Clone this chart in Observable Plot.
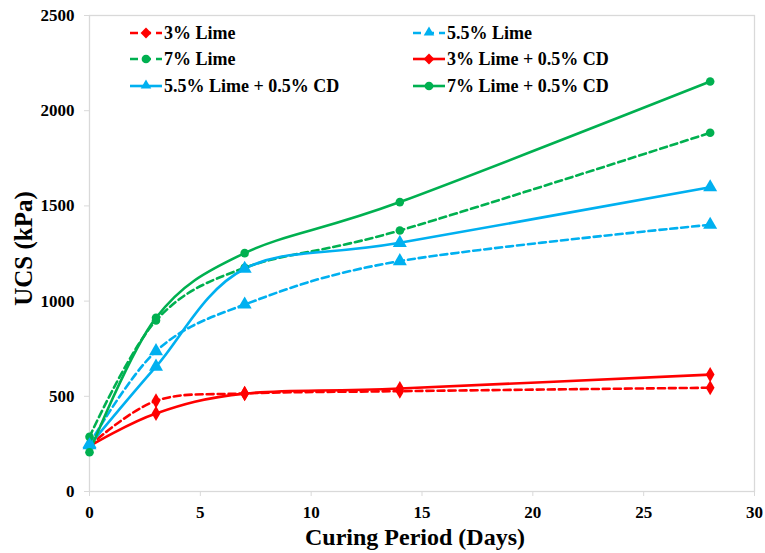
<!DOCTYPE html>
<html>
<head>
<meta charset="utf-8">
<script src="https://cdn.jsdelivr.net/npm/d3@7"></script>
<script src="https://cdn.jsdelivr.net/npm/@observablehq/plot@0.6"></script>
<style>
  html, body { margin: 0; padding: 0; background: #fff; }
  #wrap { position: relative; width: 765px; height: 553px; font-family: "Liberation Serif", "Times New Roman", serif; }
  #legend { position: absolute; left: 0; top: 0; width: 765px; height: 120px; pointer-events: none; }
  .item { position: absolute; display: flex; align-items: center; height: 20px; font-family: "Liberation Serif", "Times New Roman", serif; font-weight: bold; font-size: 18px; color: #000; white-space: nowrap; }
  .item svg { display: block; margin-right: 2px; }
</style>
</head>
<body>
<div id="wrap"><div id="chart"></div><div id="legend"></div></div>
<script>
// ---- data ----
const days = [0, 3, 7, 14, 28];
const seriesNames = ["3% Lime", "5.5% Lime", "7% Lime", "3% Lime + 0.5% CD", "5.5% Lime + 0.5% CD", "7% Lime + 0.5% CD"];
const lime3    = [240, 476, 515, 527, 545];
const lime55   = [250, 737, 982, 1210, 1401];
const lime7    = [287, 898, 1175, 1371, 1884];
const lime3cd  = [238, 410, 514, 541, 614];
const lime55cd = [243, 656, 1170, 1306, 1598];
const lime7cd  = [206, 912, 1252, 1520, 2153];
const xTicks = [0, 5, 10, 15, 20, 25, 30];
const yTicks = [0, 500, 1000, 1500, 2000, 2500];
const xTitle = "Curing Period (Days)";
const yTitle = "UCS (kPa)";

const FONT = '"Liberation Serif", "Times New Roman", serif';
// ---- styles per series ----
const RED = "#FF0000", BLUE = "#00B0F0", GREEN = "#00B050";
const styles = [
  {color: RED,   dash: "7,4", symbol: "diamond"},
  {color: BLUE,  dash: "7,4", symbol: "triangle"},
  {color: GREEN, dash: "7,4", symbol: "circle"},
  {color: RED,   dash: null,  symbol: "diamond"},
  {color: BLUE,  dash: null,  symbol: "triangle"},
  {color: GREEN, dash: null,  symbol: "circle"}
];
const values = [lime3, lime55, lime7, lime3cd, lime55cd, lime7cd];
const tables = values.map((vals, i) => days.map((d, j) => ({day: d, ucs: vals[j], series: seriesNames[i]})));

const marks = [
  Plot.frame({stroke: "#D9D9D9", strokeWidth: 1.3}),
  Plot.axisX({ticks: xTicks, tickFormat: d3.format("d"), tickSize: 5, tickPadding: 9, stroke: "#D9D9D9", label: null,
    fontSize: 17, fontWeight: "bold", fontFamily: FONT, fill: "#000"}),
  Plot.axisY({ticks: yTicks, tickFormat: d3.format("d"), tickSize: 5, tickPadding: 10, stroke: "#D9D9D9", label: null,
    fontSize: 17, fontWeight: "bold", fontFamily: FONT, fill: "#000"}),
];
const symbolSize = {diamond: 4.6, triangle: 5.2, circle: 4.3};
tables.forEach((t, i) => {
  const s = styles[i];
  marks.push(Plot.line(t, {x: "day", y: "ucs", stroke: s.color, strokeWidth: 2.6, curve: "cardinal",
    strokeDasharray: s.dash ?? undefined}));
});
tables.forEach((t, i) => {
  const s = styles[i];
  marks.push(Plot.dot(t, {x: "day", y: "ucs", fill: s.color, stroke: "none", symbol: s.symbol, r: symbolSize[s.symbol]}));
});
marks.push(Plot.text([xTitle], {frameAnchor: "bottom", lineAnchor: "middle", textAnchor: "middle", dy: 46, dx: -7,
  fontSize: 24, fontWeight: "bold", fontFamily: FONT, fill: "#000"}));
marks.push(Plot.text([yTitle], {frameAnchor: "left", lineAnchor: "middle", textAnchor: "middle", dx: -66, dy: -5, rotate: -90,
  fontSize: 25, fontWeight: "bold", fontFamily: FONT, fill: "#000"}));

const chart = Plot.plot({
  width: 765,
  height: 553,
  marginLeft: 89,
  marginRight: 11,
  marginTop: 15,
  marginBottom: 62,
  x: {domain: [0, 30]},
  y: {domain: [0, 2500]},
  style: {fontFamily: FONT, background: "#fff", overflow: "visible"},
  marks
});
document.getElementById("chart").appendChild(chart);

// ---- legend (inside the plot area, two columns) ----
const legend = document.getElementById("legend");
const pos = [
  {x: 130, y: 33}, {x: 413, y: 33},
  {x: 130, y: 59}, {x: 413, y: 59},
  {x: 130, y: 86}, {x: 413, y: 86}
];
const order = [0, 1, 2, 3, 4, 5];
order.forEach((si, k) => {
  const s = styles[si];
  const p = pos[k];
  const div = document.createElement("div");
  div.className = "item";
  div.style.left = p.x + "px";
  div.style.top = (p.y - 10) + "px";
  const sym = d3.symbol().type(s.symbol === "diamond" ? d3.symbolDiamond2 : s.symbol === "triangle" ? d3.symbolTriangle2 : d3.symbolCircle)
    .size(s.symbol === "diamond" ? 75 : s.symbol === "triangle" ? 80 : 60)();
  div.innerHTML = `<svg width="32" height="20" viewBox="0 0 32 20">
     <line x1="0" y1="10" x2="32" y2="10" stroke="${s.color}" stroke-width="2.6" ${s.dash ? 'stroke-dasharray="8,5"' : ''}/>
     <path d="${sym}" transform="translate(16,${s.symbol === 'triangle' ? 9.5 : 10})" fill="${s.color}"/>
   </svg><span>${seriesNames[si]}</span>`;
  legend.appendChild(div);
});
</script>
</body>
</html>
